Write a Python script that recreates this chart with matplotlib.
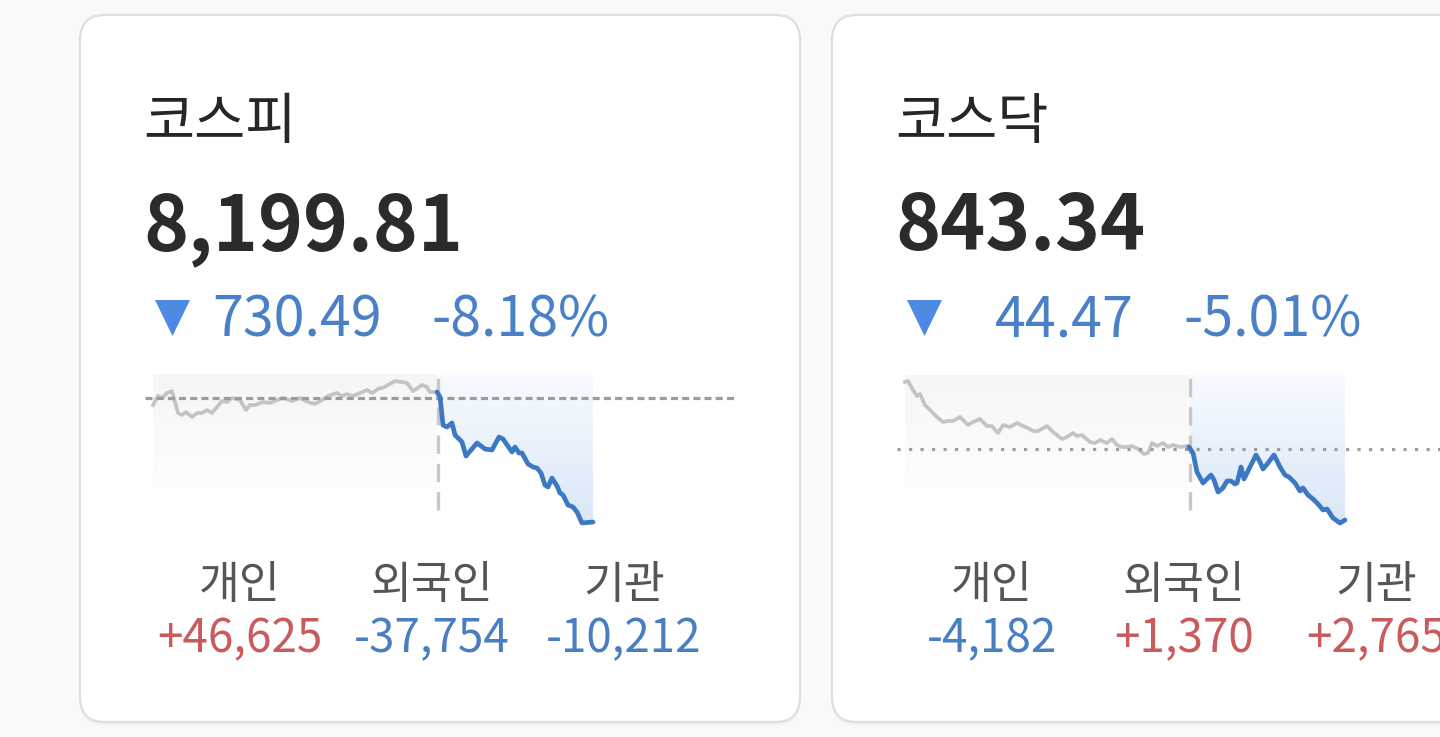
import numpy as np
import matplotlib.pyplot as plt
from matplotlib.patches import FancyBboxPatch, Polygon
from matplotlib.colors import LinearSegmentedColormap

plt.rcParams['font.family'] = ['Noto Sans CJK KR', 'DejaVu Sans']

# ---- data ----
names = ['코스피', '코스닥']
closes = ['8,199.81', '843.34']
changes = ['730.49', '44.47']
change_pcts = ['-8.18%', '-5.01%']
investor_labels = ['개인', '외국인', '기관']
kospi_investors = ['+46,625', '-37,754', '-10,212']
kosdaq_investors = ['-4,182', '+1,370', '+2,765']

# previous close (reference line) for each index
kospi_base = 8930.30
kosdaq_base = 887.81

# intraday traces: t = time step, v = index level
kospi_prev_t = [0, 5, 9, 14, 19, 25, 29, 33, 39, 44, 49, 54, 59, 64, 69, 74, 79, 87, 93, 97,
                102, 110, 117, 124, 130, 139, 147, 155, 162, 169, 175, 184, 189, 194, 200, 207,
                214, 219, 225, 232, 235, 242, 249, 254, 260, 269, 274, 277, 284]
kospi_prev_v = [8889.1, 8942.1, 8930.3, 8959.8, 8971.5, 8841.9, 8830.2, 8847.8, 8818.4, 8841.9,
                8841.9, 8859.6, 8841.9, 8877.3, 8912.6, 8906.7, 8930.3, 8918.5, 8859.6, 8889.1,
                8889.1, 8906.7, 8900.8, 8918.5, 8930.3, 8912.6, 8930.3, 8906.7, 8895.0, 8918.5,
                8942.1, 8959.8, 8942.1, 8953.9, 8942.1, 8959.8, 8977.4, 8959.8, 8983.3, 8995.1,
                9006.9, 9030.4, 9024.6, 9018.7, 8971.5, 9006.9, 8995.1, 8965.6, 8965.6]
kospi_today_t = [284, 287, 290, 294, 299, 302, 309, 313, 319, 324, 332, 339, 346, 350, 359, 362,
                 366, 369, 375, 380, 384, 388, 392, 395, 399, 404, 407, 410, 415, 420, 424, 429, 440]
kospi_today_v = [8965.6, 8936.2, 8771.2, 8759.5, 8783.0, 8712.3, 8671.1, 8588.6, 8629.9, 8665.2,
                 8629.9, 8624.0, 8700.5, 8688.8, 8612.2, 8641.6, 8606.3, 8606.3, 8541.5, 8523.8,
                 8517.9, 8488.5, 8417.8, 8406.0, 8459.0, 8411.9, 8370.7, 8358.9, 8299.9, 8288.2,
                 8258.7, 8194.1, 8199.8]

kosdaq_prev_t = [0, 3, 8, 12, 15, 20, 27, 32, 38, 43, 48, 55, 63, 68, 75, 82, 87, 93, 98, 105,
                 112, 118, 123, 128, 133, 142, 148, 157, 162, 168, 172, 177, 185, 190, 195, 202,
                 207, 212, 217, 222, 227, 233, 239, 243, 247, 252, 258, 263, 268, 275, 283]
kosdaq_prev_v = [929.77, 930.40, 924.76, 921.00, 922.26, 915.37, 910.98, 907.85, 904.72, 905.35,
                 905.35, 907.85, 902.84, 904.72, 906.60, 902.21, 902.21, 897.83, 902.84, 901.59,
                 904.09, 902.21, 900.96, 899.08, 899.08, 902.21, 898.46, 894.07, 895.33, 897.83,
                 895.95, 896.58, 892.19, 891.57, 893.45, 891.57, 894.07, 890.32, 889.06, 889.06,
                 889.69, 887.81, 884.68, 885.30, 891.57, 889.69, 891.57, 889.06, 890.32, 889.06,
                 889.69]
kosdaq_today_t = [284, 288, 292, 298, 306, 309, 313, 318, 322, 326, 330, 332, 336, 339, 344, 351,
                  355, 358, 363, 369, 375, 380, 384, 390, 395, 398, 403, 408, 413, 418, 422, 428,
                  435, 440]
kosdaq_today_v = [889.06, 885.30, 873.40, 866.52, 871.53, 868.39, 860.88, 863.38, 867.77, 867.77,
                  865.89, 866.52, 876.54, 869.02, 875.28, 884.05, 879.67, 875.28, 879.04, 884.05,
                  876.54, 871.53, 870.27, 866.52, 861.50, 863.38, 859.00, 856.49, 853.36, 849.61,
                  850.23, 844.59, 841.46, 843.34]

# ---- figure ----
W, H = 1440, 737
fig = plt.figure(figsize=(W / 100, H / 100), dpi=100)
fig.patch.set_facecolor('#f9f9fa')
bg = fig.add_axes([0, 0, 1, 1])
bg.set_xlim(0, W)
bg.set_ylim(H, 0)
bg.axis('off')

RED = '#c95b5c'
BLUE = '#4a7ec2'
card_x = [80, 832]

for cx in card_x:
    shadow = FancyBboxPatch((cx, 18), 720, 707, boxstyle='round,pad=0,rounding_size=25',
                            fc='#eeeef1', ec='none', zorder=1)
    bg.add_patch(shadow)
    card = FancyBboxPatch((cx, 15), 720, 707, boxstyle='round,pad=0,rounding_size=25',
                          fc='white', ec='#dcdfe3', lw=1.6, zorder=2)
    bg.add_patch(card)


def value_color(s):
    return RED if s.startswith('+') else BLUE


investors = [kospi_investors, kosdaq_investors]
for i, cx in enumerate(card_x):
    bg.text(cx + 63, 139, names[i], fontsize=40, weight='medium', color='#262626',
            va='baseline', zorder=5)
    bg.text(cx + 63, 250, closes[i], fontsize=55, weight='bold', color='#2b2b2b',
            va='baseline', zorder=5)
    tri = Polygon([(cx + 75, 300), (cx + 110, 300), (cx + 92.5, 336)], closed=True,
                  fc='#4c8ae3', ec='none', zorder=5)
    bg.add_patch(tri)
    bg.text(cx + 302, 336, changes[i], ha='right', fontsize=40, color='#4a80c8',
            va='baseline', zorder=5)
    bg.text(cx + 352, 336, change_pcts[i], ha='left', fontsize=40, color='#4a80c8',
            va='baseline', zorder=5)
    for j, lab in enumerate(investor_labels):
        xc = cx + 160 + 192 * j
        bg.text(xc, 598, lab, ha='center', va='baseline', fontsize=32, color='#555555', zorder=5)
        val = investors[i][j]
        bg.text(xc, 652, val, ha='center', va='baseline', fontsize=33,
                color=value_color(val), zorder=5)


def sparkline(left_px, prev_t, prev_v, today_t, today_v, base, ylim, base_ls, base_end):
    ax = fig.add_axes([left_px / W, (H - 530) / H, 595 / W, 160 / H])
    ax.axis('off')
    y0, y1 = ylim
    top = y0 + (530 - 375) / 160 * (y1 - y0)
    bot = y0 + (530 - 502) / 160 * (y1 - y0)
    grad = np.linspace(0, 1, 200).reshape(-1, 1)

    gray_cmap = LinearSegmentedColormap.from_list('g', ['#fefefe', '#f6f6f6'])
    ax.imshow(grad, extent=[prev_t[0], prev_t[-1], bot, top], origin='lower',
              cmap=gray_cmap, aspect='auto', zorder=1)

    blue_cmap = LinearSegmentedColormap.from_list('b', ['#d9e7f8', '#f8fbff'])
    im = ax.imshow(grad, extent=[today_t[0], today_t[-1], min(today_v), top], origin='lower',
                   cmap=blue_cmap, aspect='auto', zorder=1)
    verts = list(zip(today_t, today_v)) + [(today_t[-1], top), (today_t[0], top)]
    clip = Polygon(verts, closed=True, fc='none', ec='none')
    ax.add_patch(clip)
    im.set_clip_path(clip)

    ax.plot(prev_t, prev_v, color='#c4c4c4', lw=2.7, solid_joinstyle='round', zorder=3)
    ax.hlines(base, -8, base_end, colors='#9c9c9c', lw=2.3, linestyles=base_ls, zorder=4)
    ax.plot([today_t[0] + 1] * 2, [0.125, 0.969], transform=ax.get_xaxis_transform(),
            color='#c8c8c8', lw=2.4, ls=(0, (5.5, 3.0)), zorder=4)
    ax.plot(today_t, today_v, color='#3d79c3', lw=3.4, solid_joinstyle='round',
            solid_capstyle='round', zorder=5)
    ax.set_xlim(-8, 587)
    ax.set_ylim(y0, y1)
    return ax


sparkline(145, kospi_prev_t, kospi_prev_v, kospi_today_t, kospi_today_v, kospi_base,
          (8152.7, 9095.3), (0, (2.2, 1.3)), 582)
sparkline(897, kosdaq_prev_t, kosdaq_prev_v, kosdaq_today_t, kosdaq_today_v, kosdaq_base,
          (837.08, 937.29), (0, (1.0, 2.6)), 587)

fig.savefig('out.png', dpi=100, facecolor=fig.get_facecolor())
